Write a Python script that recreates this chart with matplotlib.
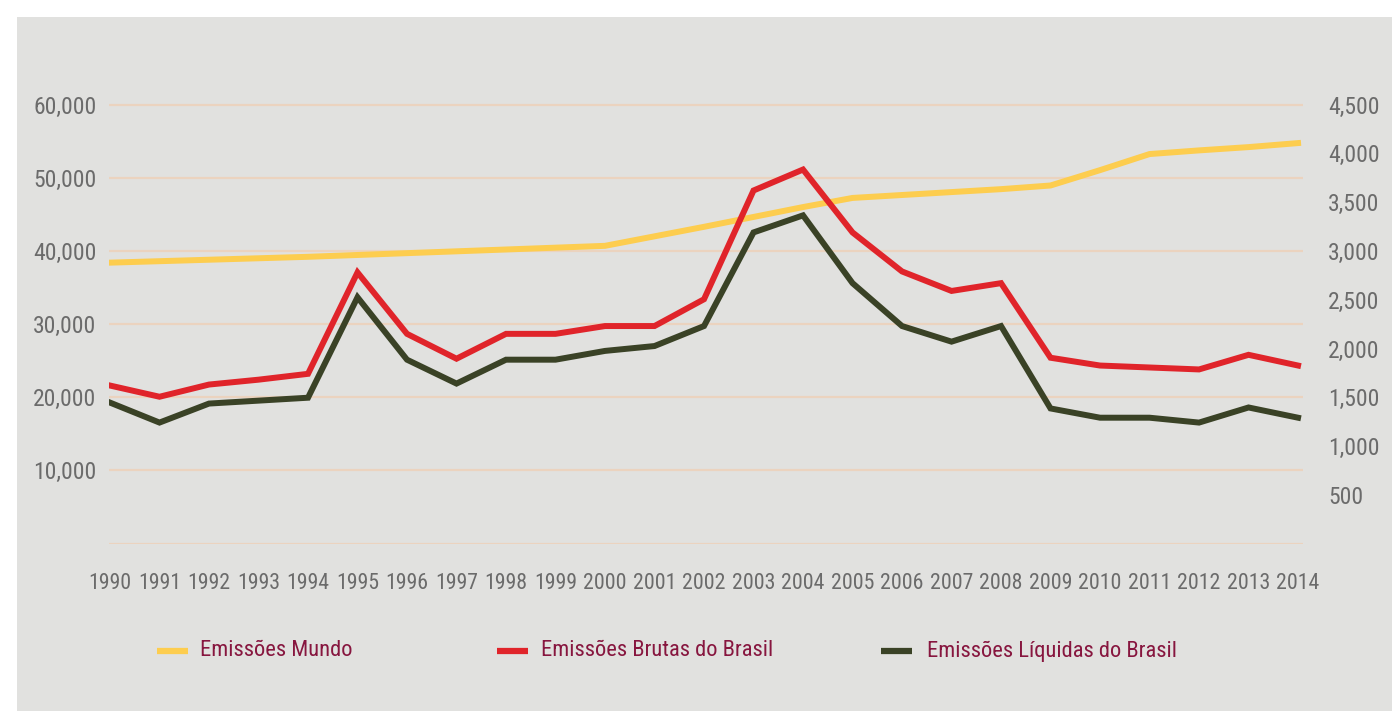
import matplotlib
matplotlib.use("Agg")
import matplotlib.pyplot as plt
from matplotlib import font_manager
from matplotlib.lines import Line2D
from matplotlib.patches import Rectangle
from matplotlib.ticker import FuncFormatter

# dados
anos = list(range(1990, 2015))
mundo = [38400, 38600, 38800, 39000, 39200, 39450, 39700, 39950, 40200, 40450,
         40700, 42000, 43300, 44650, 46000, 47250, 47650, 48050, 48450, 48950,
         51050, 53250, 53750, 54200, 54750]
brutas = [1620, 1505, 1630, 1680, 1740, 2780, 2150, 1895, 2150, 2150,
          2230, 2230, 2505, 3620, 3835, 3190, 2790, 2590, 2670, 1905,
          1825, 1805, 1785, 1935, 1825]
liquidas = [1445, 1240, 1435, 1465, 1495, 2525, 1885, 1640, 1885, 1885,
            1975, 2025, 2230, 3190, 3365, 2670, 2230, 2070, 2230, 1385,
            1290, 1290, 1240, 1395, 1290]
ticks_esq = [10000, 20000, 30000, 40000, 50000, 60000]
ticks_dir = [500, 1000, 1500, 2000, 2500, 3000, 3500, 4000, 4500]
legendas = ["Emissões Mundo", "Emissões Brutas do Brasil", "Emissões Líquidas do Brasil"]


def achar_fonte():
    # procura uma fonte estreita; se nao houver, usa Roboto
    for fam, stretch in [("Liberation Sans Narrow", "normal"), ("Roboto Condensed", "normal"),
                         ("Open Sans Condensed", "normal"), ("DejaVu Sans", "condensed"),
                         ("Roboto", "normal")]:
        try:
            p = font_manager.findfont(font_manager.FontProperties(family=fam, stretch=stretch),
                                      fallback_to_default=False)
        except Exception:
            continue
        if stretch == "condensed" and "ondensed" not in p:
            continue
        return fam, stretch
    return "DejaVu Sans", "normal"


FAMILIA, STRETCH = achar_fonte()
plt.rcParams["font.family"] = [FAMILIA, "DejaVu Sans"]
plt.rcParams["font.stretch"] = STRETCH

FUNDO = "#e1e1df"
GRADE = "#ebd3bf"
TEXTO = "#6b6b6b"
VINHO = "#87163f"
AMARELO = "#fdcd4f"
VERMELHO = "#e0242a"
VERDE = "#3a4226"

W, H = 1392, 711
fig = plt.figure(figsize=(W / 100, H / 100), dpi=100)
fig.patch.set_facecolor("white")
fig.add_artist(Rectangle((17 / W, 0), 1 - 17 / W, 1 - 17 / H, transform=fig.transFigure,
                         facecolor=FUNDO, edgecolor="none", zorder=0))

renderer = fig.canvas.get_renderer()


def tamanho(texto, largura_px, altura_max_px):
    # ajusta o tamanho da fonte para a largura medida na referencia
    t = fig.text(0, 0, texto, fontsize=20)
    bb = t.get_window_extent(renderer)
    t.remove()
    s = 20 * largura_px / bb.width
    return min(s, altura_max_px / 0.72 * 72 / 100)


fs_anos = tamanho("1990", 43, 20)
fs_eixo = tamanho("60,000", 64, 17)
fs_leg = tamanho("Emissões Mundo", 152, 18)

ax = fig.add_axes([109 / W, 1 - 543.5 / H, (1303 - 109) / W, (543.5 - 60.8) / H])
ax.set_facecolor("none")
ax2 = ax.twinx()

ymax = 66000
ax.set_ylim(0, ymax)
ax2.set_ylim(0, ymax / 13.333)
ax.set_xlim(1989.98, 2014.1)

for v in [0] + ticks_esq:
    ax.axhline(v, color=GRADE, lw=1.6, zorder=1)

ax.plot(anos, mundo, color=AMARELO, lw=4.3, solid_joinstyle="miter", zorder=3)
ax2.plot(anos, brutas, color=VERMELHO, lw=4.3, solid_joinstyle="miter", zorder=3)
ax2.plot(anos, liquidas, color=VERDE, lw=4.3, solid_joinstyle="miter", zorder=3)

fmt = FuncFormatter(lambda v, p: f"{int(v):,}")
ax.set_yticks(ticks_esq)
ax.yaxis.set_major_formatter(fmt)
ax2.set_yticks(ticks_dir)
ax2.yaxis.set_major_formatter(fmt)
ax.set_xticks(anos)
ax.set_xticklabels([str(a) for a in anos])

ax.tick_params(axis="y", length=0, pad=9, labelsize=fs_eixo, labelcolor=TEXTO)
ax2.tick_params(axis="y", length=0, pad=18, labelsize=fs_eixo, labelcolor=TEXTO)
ax.tick_params(axis="x", length=0, pad=21, labelsize=fs_anos, labelcolor=TEXTO)

for a in (ax, ax2):
    for s in a.spines.values():
        s.set_visible(False)

# legenda manual
cores = [AMARELO, VERMELHO, VERDE]
x_marca = [157, 497, 881]
x_texto = [200, 541, 927]
y_leg = 1 - 651 / H
for cor, xm, xt, nome in zip(cores, x_marca, x_texto, legendas):
    fig.add_artist(Line2D([xm / W, (xm + 31) / W], [y_leg, y_leg], transform=fig.transFigure,
                          color=cor, lw=4.5, solid_capstyle="butt"))
    fig.text(xt / W, y_leg, nome, color=VINHO, fontsize=fs_leg, va="center", ha="left")

fig.savefig("out.png", dpi=100, facecolor=fig.get_facecolor())
